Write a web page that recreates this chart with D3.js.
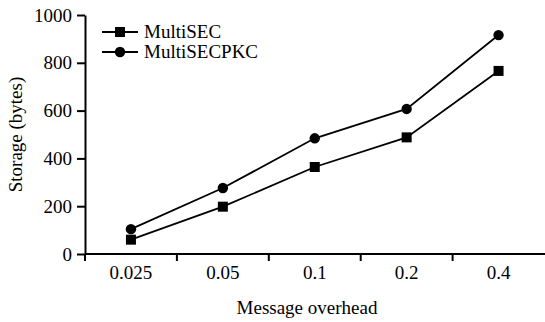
<!DOCTYPE html>
<html>
<head>
<meta charset="utf-8">
<script src="https://cdn.jsdelivr.net/npm/d3@7/dist/d3.min.js"></script>
<style>
  body { margin: 0; background: #fff; }
  svg { display: block; }
  svg text { font-family: "Liberation Serif", "Times New Roman", serif; }
</style>
</head>
<body>
<svg id="chart" width="545" height="322"></svg>
<script>
// chart data
const categories = ["0.025", "0.05", "0.1", "0.2", "0.4"];
const multiSEC = [60, 198, 364, 488, 766];
const multiSECPKC = [104, 276, 484, 607, 916];
const yTicks = [0, 200, 400, 600, 800, 1000];

const svg = d3.select("#chart");
const margin = { left: 85, top: 15, right: 0, bottom: 68 };
const width = 545;
const height = 322;
const fontSize = 19;

const x = d3.scaleBand()
  .domain(categories)
  .range([margin.left, width - 0.5]);

const y = d3.scaleLinear()
  .domain([0, 1000])
  .range([height - margin.bottom, margin.top]);

// y axis
const yAxis = svg.append("g")
  .attr("transform", `translate(${margin.left},0)`)
  .call(d3.axisLeft(y).tickValues(yTicks).tickFormat(d3.format("d"))
    .tickSize(8).tickPadding(5).tickSizeOuter(0));
yAxis.attr("font-family", null).attr("font-size", fontSize);
yAxis.select(".domain").attr("stroke-width", 2);
yAxis.selectAll(".tick line").attr("stroke-width", 2);
yAxis.selectAll(".tick text").attr("fill", "#000");

// x axis: ticks sit on band boundaries
const xAxis = svg.append("g")
  .attr("transform", `translate(0,${y(0)})`);
xAxis.append("line")
  .attr("x1", margin.left).attr("x2", width)
  .attr("stroke", "#000").attr("stroke-width", 2);
xAxis.selectAll(".bound")
  .data(categories)
  .join("line")
  .attr("class", "bound")
  .attr("x1", (d) => x(d)).attr("x2", (d) => x(d))
  .attr("y1", 0).attr("y2", 7)
  .attr("stroke", "#000").attr("stroke-width", 2);
xAxis.selectAll("text")
  .data(categories)
  .join("text")
  .attr("x", (d) => x(d) + x.bandwidth() / 2)
  .attr("y", 25)
  .attr("text-anchor", "middle")
  .attr("font-size", fontSize)
  .text((d) => d);

// axis titles
svg.append("text")
  .attr("x", 307).attr("y", 314)
  .attr("text-anchor", "middle")
  .attr("font-size", fontSize)
  .text("Message overhead");
svg.append("text")
  .attr("transform", `translate(22,${(y(0) + y(1000)) / 2}) rotate(-90)`)
  .attr("text-anchor", "middle")
  .attr("font-size", fontSize)
  .text("Storage (bytes)");

// series
const cx = (i) => x(categories[i]) + x.bandwidth() / 2;
const line = d3.line().x((d, i) => cx(i)).y((d) => y(d));

const series = [
  { name: "MultiSEC", values: multiSEC, shape: "square" },
  { name: "MultiSECPKC", values: multiSECPKC, shape: "circle" }
];

function drawMarker(g, shape, px, py) {
  if (shape === "square") {
    g.append("rect")
      .attr("x", px - 5).attr("y", py - 5)
      .attr("width", 10).attr("height", 10)
      .attr("fill", "#000");
  } else {
    g.append("circle")
      .attr("cx", px).attr("cy", py).attr("r", 5.2)
      .attr("fill", "#000");
  }
}

series.forEach((s) => {
  const g = svg.append("g");
  g.append("path")
    .attr("d", line(s.values))
    .attr("fill", "none")
    .attr("stroke", "#000")
    .attr("stroke-width", 1.8);
  s.values.forEach((v, i) => drawMarker(g, s.shape, cx(i), y(v)));
});

// legend
const legend = svg.append("g");
series.forEach((s, i) => {
  const ly = 32 + i * 20;
  legend.append("line")
    .attr("x1", 102).attr("x2", 138)
    .attr("y1", ly).attr("y2", ly)
    .attr("stroke", "#000").attr("stroke-width", 1.8);
  drawMarker(legend, s.shape, 120, ly);
  legend.append("text")
    .attr("x", 144).attr("y", ly + 6)
    .attr("font-size", fontSize)
    .text(s.name);
});
</script>
</body>
</html>
